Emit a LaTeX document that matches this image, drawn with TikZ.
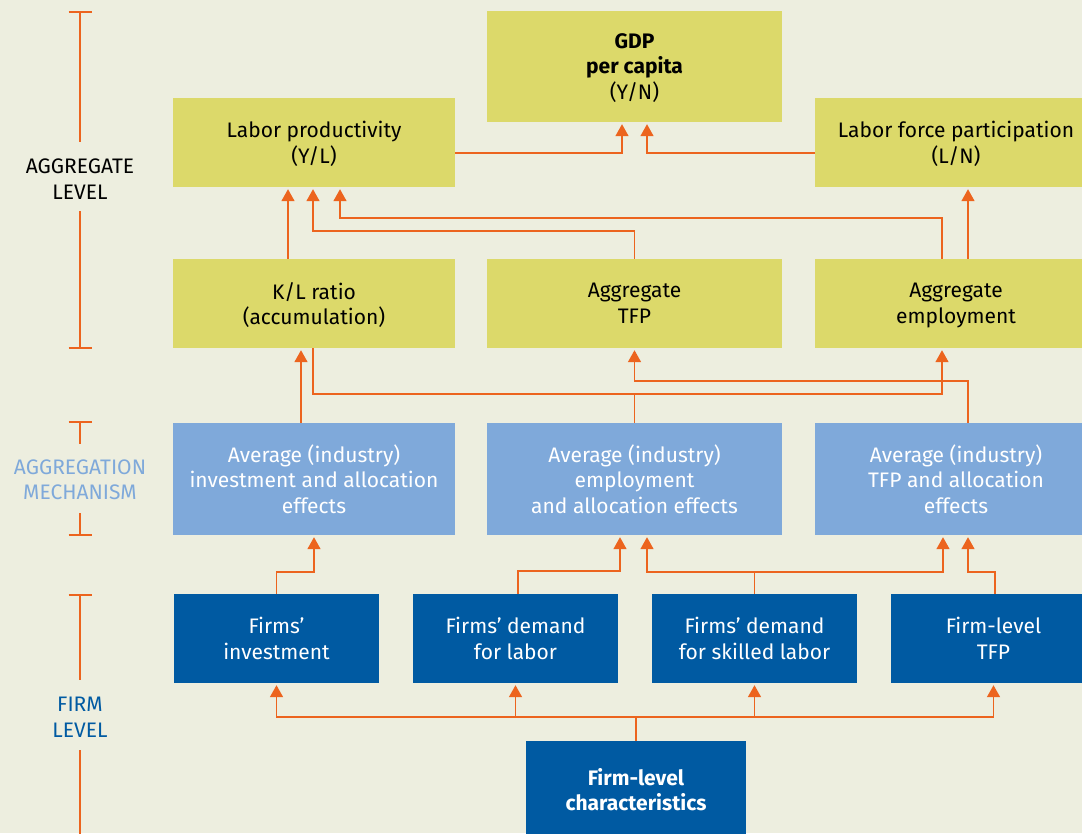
\documentclass[tikz,border=0pt]{standalone}
\usepackage{fontspec}
\setmainfont{Fira Sans}
\usetikzlibrary{arrows.meta}
\definecolor{bg}{RGB}{237,238,223}
\definecolor{ybox}{RGB}{220,217,106}
\definecolor{lbox}{RGB}{127,169,218}
\definecolor{dbox}{RGB}{0,90,162}
\definecolor{org}{RGB}{236,100,30}
\tikzset{
  x=1pt,y=-1pt,
  basebox/.style={rectangle,inner sep=0pt,align=center,font=\fontsize{21}{25.5}\selectfont,
    execute at begin node=\strut, execute at end node=\strut, text depth=0pt},
  ybx/.style={basebox,fill=ybox,text=black},
  lbx/.style={basebox,fill=lbox,text=white},
  dbx/.style={basebox,fill=dbox,text=white},
  conn/.style={draw=org,line width=1.6pt},
  arr/.style={conn,-{Triangle[width=13pt,length=12pt]},shorten >=2pt},
  scalebar/.style={draw=org,line width=1.6pt},
  lvl/.style={align=center,inner sep=0pt,font=\fontsize{21}{25.5}\selectfont,
    execute at begin node=\strut, execute at end node=\strut, text depth=0pt}
}
\begin{document}
\begin{tikzpicture}
\clip (0,0) rectangle (1082,833);
\fill[bg] (0,0) rectangle (1082,833);

% aggregate level
\node[ybx,minimum width=295pt,minimum height=111pt] (gdp) at (634.5,66.5) {\textbf{GDP}\\\textbf{per capita}\\(Y/N)};
\node[ybx,minimum width=282pt,minimum height=89pt] (lp) at (314,142.5) {Labor productivity\\(Y/L)};
\node[ybx,minimum width=282pt,minimum height=89pt] (lf) at (956,142.5) {Labor force participation\\(L/N)};
\node[ybx,minimum width=282pt,minimum height=89pt] (kl) at (314,303.5) {K/L ratio\\(accumulation)};
\node[ybx,minimum width=295pt,minimum height=89pt] (atfp) at (634.5,303.5) {Aggregate\\TFP};
\node[ybx,minimum width=282pt,minimum height=89pt] (aemp) at (956,303.5) {Aggregate\\employment};

% aggregation mechanism
\node[lbx,minimum width=282pt,minimum height=112pt] (avi) at (314,479) {Average (industry)\\investment and allocation\\effects};
\node[lbx,minimum width=295pt,minimum height=112pt] (ave) at (634.5,479) {Average (industry)\\employment\\and allocation effects};
\node[lbx,minimum width=282pt,minimum height=112pt] (avt) at (956,479) {Average (industry)\\TFP and allocation\\effects};

% firm level
\node[dbx,minimum width=205pt,minimum height=89pt] (fi) at (276.5,638.5) {Firms’\\investment};
\node[dbx,minimum width=205pt,minimum height=89pt] (fdl) at (515.5,638.5) {Firms’ demand\\for labor};
\node[dbx,minimum width=205pt,minimum height=89pt] (fds) at (754.5,638.5) {Firms’ demand\\for skilled labor};
\node[dbx,minimum width=205pt,minimum height=89pt] (ftfp) at (993.5,638.5) {Firm-level\\TFP};
\node[dbx,minimum width=220pt,minimum height=97pt] (fc) at (636,789.5) {\textbf{Firm-level}\\\textbf{characteristics}};

% connectors top
\draw[arr] ([yshift=-10.5pt]lp.east) -| ([xshift=-12.5pt]gdp.south);
\draw[arr] ([yshift=-10.5pt]lf.west) -| ([xshift=12.5pt]gdp.south);
\draw[arr] ([xshift=-26pt]kl.north) -- ([xshift=-26pt]lp.south);
\draw[arr] (atfp.north) -- ++(0,-28) -| ([xshift=-1pt]lp.south);
\draw[arr] ([xshift=-14pt]aemp.north) -- ++(0,-41) -| ([xshift=26pt]lp.south);
\draw[arr] ([xshift=12pt]aemp.north) -- ([xshift=12pt]lf.south);

% connectors middle
\draw[arr] ([xshift=-13pt]avi.north) -- ([xshift=-13pt]kl.south);
\draw[arr] ([xshift=-1pt]kl.south) -- ++(0,46) -| ([xshift=-14pt]aemp.south);
\draw[conn] (ave.north) -- ++(0,-29);
\draw[arr] ([xshift=12pt]avt.north) -- ++(0,-42) -| (atfp.south);

% connectors lower
\draw[arr] (fi.north) -- ++(0,-22) -| (avi.south);
\draw[arr] ([xshift=2.5pt]fdl.north) -- ++(0,-23) -| ([xshift=-14.5pt]ave.south);
\draw[arr] (fds.north) -- ++(0,-22) -| ([xshift=12.5pt]ave.south);
\draw[arr] (fds.north) -- ++(0,-22) -| ([xshift=-13pt]avt.south);
\draw[arr] ([xshift=1.5pt]ftfp.north) -- ++(0,-22) -| ([xshift=12pt]avt.south);

% connectors bottom
\draw[arr] (fc.north) -- ++(0,-24) -| (fi.south);
\draw[arr] (fc.north) -- ++(0,-24) -| (fdl.south);
\draw[arr] (fc.north) -- ++(0,-24) -| (fds.south);
\draw[arr] (fc.north) -- ++(0,-24) -| (ftfp.south);

% left scale
\node[lvl,text=black] (lagg) at (80,179) {AGGREGATE\\LEVEL};
\node[lvl,text=lbox] (lmech) at (80,479.5) {AGGREGATION\\MECHANISM};
\node[lvl,text=dbox] (lfirm) at (80,717.5) {FIRM\\LEVEL};
\coordinate (aggtop) at (80,12);
\coordinate (aggbot) at (80,348);
\coordinate (mechtop) at (80,422);
\coordinate (mechbot) at (80,535);
\coordinate (firmtop) at (80,595);
\coordinate (firmbot) at (80,840);
\draw[scalebar] ([xshift=-11.5pt]aggtop) -- ([xshift=11.5pt]aggtop);
\draw[scalebar] (aggtop) -- (80,142);
\draw[scalebar] (80,211) -- (aggbot);
\draw[scalebar] ([xshift=-11.5pt]aggbot) -- ([xshift=11.5pt]aggbot);
\draw[scalebar] ([xshift=-11.5pt]mechtop) -- ([xshift=11.5pt]mechtop);
\draw[scalebar] (mechtop) -- (80,444);
\draw[scalebar] (80,513) -- (mechbot);
\draw[scalebar] ([xshift=-11.5pt]mechbot) -- ([xshift=11.5pt]mechbot);
\draw[scalebar] ([xshift=-11.5pt]firmtop) -- ([xshift=11.5pt]firmtop);
\draw[scalebar] (firmtop) -- (80,680);
\draw[scalebar] (80,750) -- (firmbot);
\end{tikzpicture}
\end{document}
